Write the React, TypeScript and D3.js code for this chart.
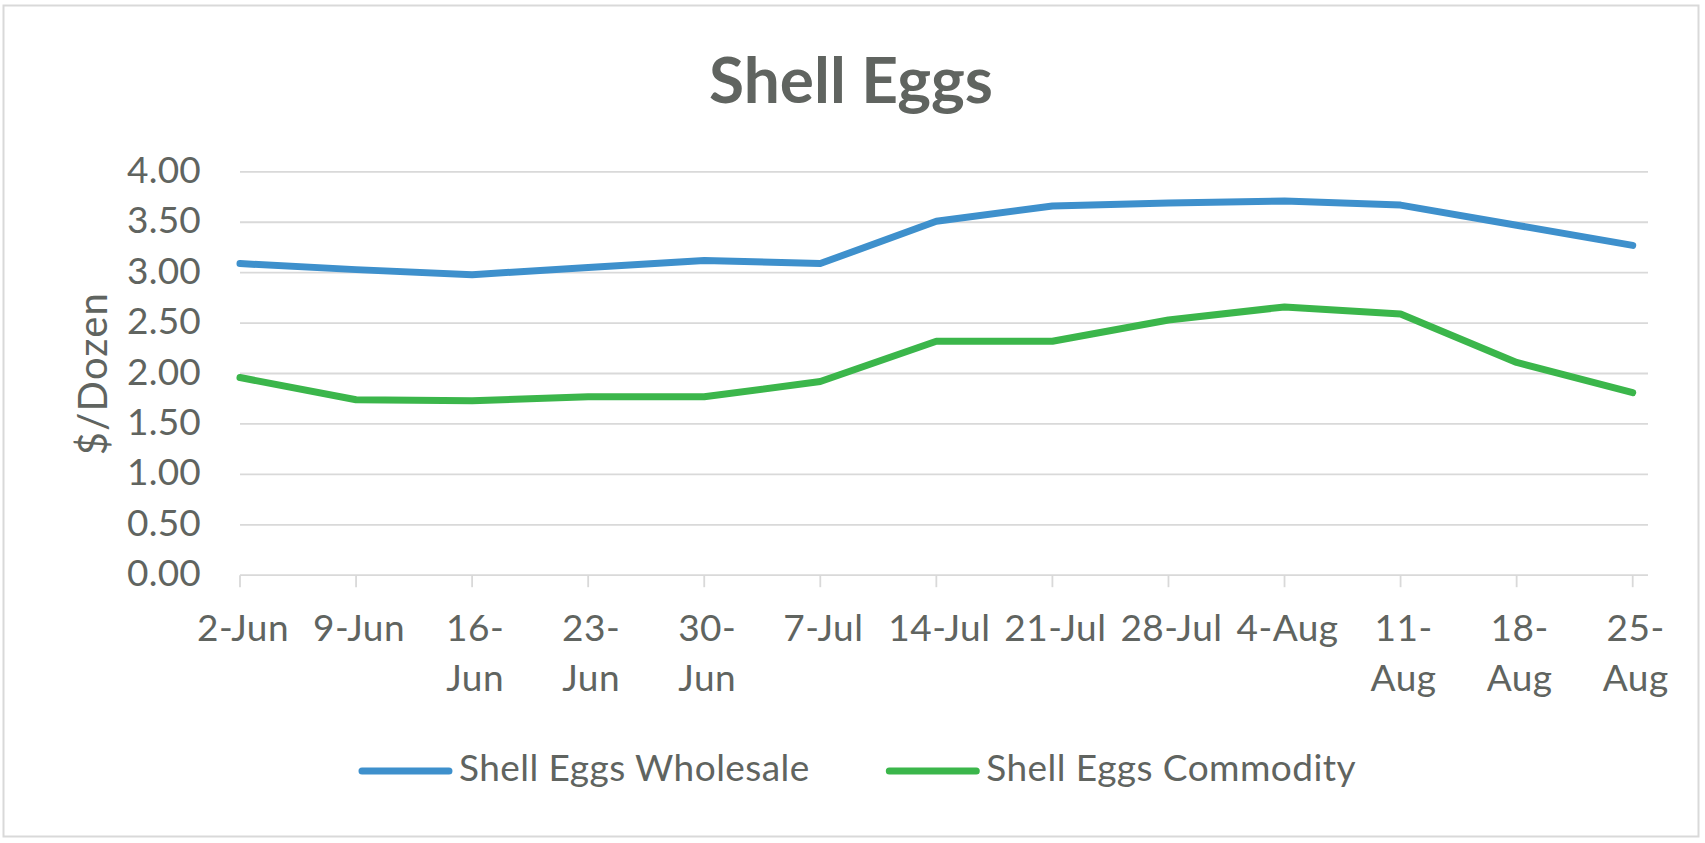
import React from "react";
import * as d3 from "d3";

const categories = ["2-Jun", "9-Jun", "16-Jun", "23-Jun", "30-Jun", "7-Jul", "14-Jul", "21-Jul", "28-Jul", "4-Aug", "11-Aug", "18-Aug", "25-Aug"];
const wholesale = [3.09, 3.03, 2.98, 3.05, 3.12, 3.09, 3.51, 3.66, 3.69, 3.71, 3.67, 3.47, 3.27];
const commodity = [1.96, 1.74, 1.73, 1.77, 1.77, 1.92, 2.32, 2.32, 2.53, 2.66, 2.59, 2.11, 1.81];
const yTicks = [0, 0.5, 1, 1.5, 2, 2.5, 3, 3.5, 4];
const seriesNames = ["Shell Eggs Wholesale", "Shell Eggs Commodity"];

const W = 1705;
const H = 843;
const FONT = "Lato, 'Open Sans', sans-serif";
const TEXT = "#606460";
const GRID = "#d9d9d9";
const COLORS = ["#3e90cc", "#3bb64b"];
const LABEL_SIZE = 37;
const LEGEND_SPACING = 0.45;

function measure(text: string, size: number, weight = "normal"): number {
  if (typeof document === "undefined") return text.length * size * 0.5;
  const c = document.createElement("canvas");
  const ctx = c.getContext("2d");
  if (!ctx) return text.length * size * 0.5;
  ctx.font = `${weight} ${size}px Lato`;
  return ctx.measureText(text).width;
}

export default function App() {
  const plotLeft = 240;
  const plotRight = 1632.7;
  const gridRight = 1648;
  const yTop = 171.8;
  const yBottom = 575.2;

  const x = d3.scalePoint<string>().domain(categories).range([plotLeft, plotRight]);
  const y = d3.scaleLinear().domain([0, 4]).range([yBottom, yTop]);

  const line = d3
    .line<number>()
    .x((_, i) => x(categories[i]) as number)
    .y((d) => y(d));

  const series = [wholesale, commodity];

  const step = x.step();
  const wrapLabel = (s: string): string[] => {
    if (measure(s, LABEL_SIZE) > step - 14) {
      const idx = s.indexOf("-");
      return [s.slice(0, idx + 1), s.slice(idx + 1)];
    }
    return [s];
  };

  // legend layout
  const lineLen = 95;
  const gapText = 6;
  const gapEntry = 75;
  const widths = seriesNames.map((n) => measure(n, LABEL_SIZE) + n.length * LEGEND_SPACING);
  const total = widths.reduce((a, w) => a + lineLen + gapText + w, 0) + gapEntry;
  let lx = 857 - total / 2;
  const legendItems = seriesNames.map((n, i) => {
    const item = { name: n, x: lx, color: COLORS[i] };
    lx += lineLen + gapText + widths[i] + gapEntry;
    return item;
  });

  return (
    <svg
      width={W}
      height={H}
      style={{ position: "absolute", left: 0, top: 0, background: "#fff" }}
      fontFamily={FONT}
    >
      <rect x={0} y={0} width={W} height={H} fill="#fff" />
      <rect x={3.5} y={5.5} width={1695} height={831} fill="#fff" stroke={GRID} strokeWidth={2} />

      <text x={851} y={103} textAnchor="middle" fontSize={64} fontWeight="bold" fill={TEXT}>
        Shell Eggs
      </text>

      {/* gridlines */}
      {yTicks.map((t) => (
        <line key={t} x1={plotLeft} x2={gridRight} y1={y(t)} y2={y(t)} stroke={GRID} strokeWidth={1.8} />
      ))}
      {/* tick marks */}
      {categories.map((c) => (
        <line key={c} x1={x(c)} x2={x(c)} y1={y(0)} y2={y(0) + 12} stroke={GRID} strokeWidth={1.8} />
      ))}

      {/* y labels */}
      {yTicks.map((t) => (
        <text key={t} x={201} y={y(t) + 11} textAnchor="end" fontSize={LABEL_SIZE} fill={TEXT} letterSpacing={0.2}>
          {t.toFixed(2)}
        </text>
      ))}

      {/* y axis title */}
      <text
        transform={`translate(107,${(yTop + yBottom) / 2}) rotate(-90)`}
        textAnchor="middle"
        fontSize={40}
        fill={TEXT}
        letterSpacing={1.2}
      >
        $/Dozen
      </text>

      {/* x labels */}
      {categories.map((c) => {
        const lines = wrapLabel(c);
        return (
          <text key={c} x={x(c) + 3} y={641} textAnchor="middle" fontSize={LABEL_SIZE} fill={TEXT} letterSpacing={0.5}>
            {lines.map((l, i) => (
              <tspan key={i} x={x(c) + 3} dy={i === 0 ? 0 : 50}>
                {l}
              </tspan>
            ))}
          </text>
        );
      })}

      {/* series */}
      {series.map((s, i) => (
        <path
          key={i}
          d={line(s) || ""}
          fill="none"
          stroke={COLORS[i]}
          strokeWidth={7}
          strokeLinecap="round"
          strokeLinejoin="round"
        />
      ))}

      {/* legend */}
      {legendItems.map((it) => (
        <g key={it.name}>
          <line
            x1={it.x + 4}
            x2={it.x + lineLen - 4}
            y1={771}
            y2={771}
            stroke={it.color}
            strokeWidth={7}
            strokeLinecap="round"
          />
          <text x={it.x + lineLen + gapText} y={781} fontSize={LABEL_SIZE} fill={TEXT} letterSpacing={LEGEND_SPACING}>
            {it.name}
          </text>
        </g>
      ))}
    </svg>
  );
}
